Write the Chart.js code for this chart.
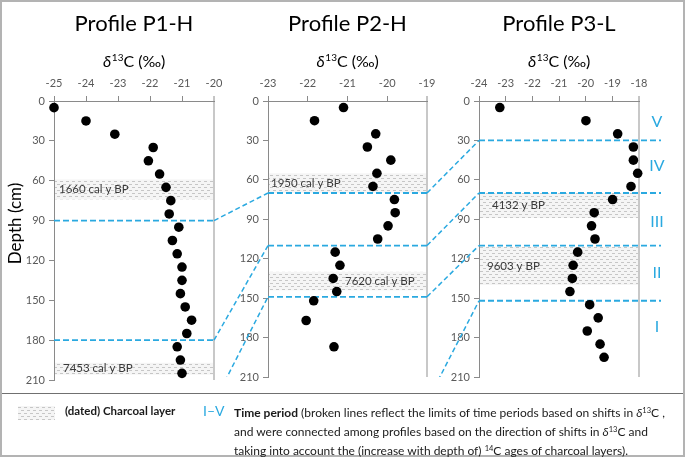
<!DOCTYPE html>
<html><head><meta charset="utf-8">
<script src="https://cdn.jsdelivr.net/npm/chart.js@4/dist/chart.umd.min.js"></script>
<style>
html,body{margin:0;padding:0;background:#fff;}
#fig{position:relative;width:685px;height:457px;overflow:hidden;font-family:Lato, "Open Sans", sans-serif;}
#fig canvas.panel{position:absolute;left:0;top:0;}
#frame{position:absolute;left:0;top:0;width:685px;height:457px;box-sizing:border-box;border:2px solid #b3b3b3;pointer-events:none;}
#sep{position:absolute;left:2px;top:393px;width:681px;height:0;border-top:1px solid #707070;}
.leg{position:absolute;white-space:nowrap;color:#1a1a1a;font-size:11.5px;}
.leg sup{font-size:7.5px;vertical-align:4px;line-height:0;}
</style></head>
<body>
<div id="fig">
 <canvas id="c1" class="panel" width="685" height="392"></canvas>
 <canvas id="c2" class="panel" width="685" height="392"></canvas>
 <canvas id="c3" class="panel" width="685" height="392"></canvas>
 <div id="frame"></div><div id="sep"></div>
 <canvas id="sw" width="37" height="14" style="position:absolute;left:18px;top:406px"></canvas>
 <div class="leg" style="left:65px;top:404px;font-weight:bold">(dated) Charcoal layer</div>
 <div class="leg" style="left:203px;top:402px;color:#2AA9E0;font-size:14px">I–V</div>
 <div class="leg" style="left:234px;top:403px;line-height:19px;font-size:12px"><b>Time period</b> (broken lines reflect the limits of time periods based on shifts in <i>δ</i><sup>13</sup>C ,<br>and were connected among profiles based on the direction of shifts in <i>δ</i><sup>13</sup>C and<br>taking into account the (increase with depth of) <sup>14</sup>C ages of charcoal layers).</div>
</div>
<script>
// ---------- DATA ----------
const depthTicks = [0, 30, 60, 90, 120, 150, 180, 210];

const p1Depth = [5,15,25,35,45,55,65,75,85,95,105,115,125,135,145,155,165,175,185,195,205];
const p1D13C  = [-25.0,-24.0,-23.1,-21.9,-22.05,-21.7,-21.5,-21.35,-21.4,-21.1,-21.3,-21.15,-21.0,-21.0,-21.05,-20.9,-20.7,-20.85,-21.15,-21.05,-21.0];

const p2Depth = [5,15,25,35,45,55,65,75,85,95,105,115,125,135,145,152,167,187];
const p2D13C  = [-21.1,-21.83,-20.29,-20.5,-19.91,-20.26,-20.36,-19.82,-19.8,-19.98,-20.24,-21.31,-21.19,-21.36,-21.27,-21.85,-22.04,-21.34];

const p3Depth = [5,15,25,35,45,55,65,75,85,95,105,115,125,135,145,155,165,175,185,195];
const p3D13C  = [-23.22,-19.99,-18.8,-18.21,-18.21,-18.05,-18.3,-18.99,-19.68,-19.78,-19.65,-20.3,-20.47,-20.5,-20.59,-19.85,-19.53,-19.94,-19.46,-19.31];

// charcoal layers: depth ranges and dates
const p1Bands = [[59, 74], [197, 206]];
const p1BandLabels = ['1660 cal y BP', '7453 cal y BP'];
const p2Bands = [[55, 70], [130, 144]];
const p2BandLabels = ['1950 cal y BP', '7620 cal y BP'];
const p3Bands = [[70, 89], [111, 140]];
const p3BandLabels = ['4132 y BP', '9603 y BP'];

// time period limits (depth, cm)
const p1Limits = [90, 180];
const p2Limits = [70, 110, 149];
const p3Limits = [30, 70, 110, 152];

// time periods (P3)
const periodNames = ['V', 'IV', 'III', 'II', 'I'];
const periodDepth = [16, 49, 92, 131, 172];

// connections of period limits between profiles [depth in left profile, depth in right profile]
const link12 = [[90, 70], [180, 110], [227, 149]];
const link23 = [[70, 30], [110, 70], [149, 110], [229, 152]];

// ---------- STYLE / LAYOUT ----------
const BLUE = '#2AA9E0';
const FONT = 'Lato, "Open Sans", sans-serif';
const CW = 685, CH = 392;
const TITLE_SIZE = 22, TITLE_PAD = 11;
const TITLE_H = TITLE_PAD + TITLE_SIZE * 1.2;
const AREA_TOP = 101, YAX_W = 40;

function makePattern(ctx) {
  const p = document.createElement('canvas'); p.width = 6; p.height = 6;
  const g = p.getContext('2d');
  g.fillStyle = 'rgba(238,238,238,0.6)'; g.fillRect(0,0,6,6);
  g.fillStyle = '#c6c6c6';
  g.fillRect(0, 1, 3, 1); g.fillRect(3, 4, 3, 1);
  return ctx.createPattern(p, 'repeat');
}

const charts = [];

function drawD13C(ctx, cx, baseY) {
  const f1 = 'italic 16px ' + FONT, f2 = '10px ' + FONT, f3 = '16px ' + FONT;
  ctx.font = f1; const w1 = ctx.measureText('δ').width;
  ctx.font = f2; const w2 = ctx.measureText('13').width;
  ctx.font = f3; const w3 = ctx.measureText('C (‰)').width;
  let x0 = cx - (w1 + w2 + w3) / 2;
  ctx.textBaseline = 'alphabetic'; ctx.textAlign = 'left'; ctx.fillStyle = '#000';
  ctx.font = f1; ctx.fillText('δ', x0, baseY); x0 += w1 + 0.5;
  ctx.font = f2; ctx.fillText('13', x0, baseY - 6); x0 += w2;
  ctx.font = f3; ctx.fillText('C (‰)', x0, baseY);
}

function makePanel(id, P) {
  const ctx0 = document.getElementById(id).getContext('2d');
  const pattern = makePattern(ctx0);
  const plugin = {
    id: 'deco',
    beforeDatasetsDraw(chart) {
      const {ctx, chartArea: a, scales: {y}} = chart;
      ctx.save();
      P.bands.forEach((b, i) => {
        const y1 = y.getPixelForValue(b[0]), y2 = y.getPixelForValue(b[1]);
        ctx.fillStyle = pattern;
        ctx.fillRect(a.left + 1, y1, a.right - a.left - 2, y2 - y1);
        ctx.fillStyle = '#3a3a3a';
        ctx.font = '11.5px ' + FONT;
        ctx.textAlign = 'left'; ctx.textBaseline = 'middle';
        ctx.fillText(P.bandLabels[i], a.left + P.labelOffset[i], (y1 + y2) / 2);
      });
      ctx.strokeStyle = BLUE; ctx.lineWidth = 1.8; ctx.setLineDash([6, 3]);
      P.limits.forEach(d => {
        const yy = y.getPixelForValue(d);
        ctx.beginPath(); ctx.moveTo(a.left, yy); ctx.lineTo(a.right + P.extend, yy); ctx.stroke();
      });
      ctx.restore();
    },
    afterDraw(chart) {
      const {ctx, chartArea: a, scales: {y}} = chart;
      ctx.save();
      drawD13C(ctx, (a.left + a.right) / 2, a.top - 34.5);
      if (P.depthTitle) {
        ctx.save();
        ctx.translate(16, (a.top + a.bottom) / 2 - 17);
        ctx.rotate(-Math.PI / 2);
        ctx.font = '17px ' + FONT; ctx.fillStyle = '#000';
        ctx.textAlign = 'center'; ctx.textBaseline = 'middle';
        ctx.fillText('Depth (cm)', 0, 0);
        ctx.restore();
      }
      if (P.periods) {
        ctx.font = '16px ' + FONT; ctx.fillStyle = BLUE;
        ctx.textAlign = 'center'; ctx.textBaseline = 'middle';
        P.periods.forEach((n, i) => ctx.fillText(n, a.right + 18, y.getPixelForValue(P.periodDepth[i])));
      }
      if (P.linkFrom !== undefined) {
        const left = charts[P.linkFrom];
        const la = left.chartArea, ly = left.scales.y;
        ctx.beginPath(); ctx.rect(0, 0, CW, Math.min(la.bottom, a.bottom)); ctx.clip();
        ctx.strokeStyle = BLUE; ctx.lineWidth = 1.5; ctx.setLineDash([5, 3]);
        P.links.forEach(([d1, d2]) => {
          ctx.beginPath();
          ctx.moveTo(la.right, ly.getPixelForValue(d1));
          ctx.lineTo(a.left, y.getPixelForValue(d2));
          ctx.stroke();
        });
      }
      ctx.restore();
    }
  };
  const chart = new Chart(ctx0, {
    type: 'scatter',
    data: { datasets: [{
      data: P.depth.map((d, i) => ({x: P.vals[i], y: d})),
      backgroundColor: '#000', borderWidth: 0, pointRadius: 4.8, clip: false
    }]},
    options: {
      responsive: false, animation: false, events: [],
      layout: { padding: { left: P.left - YAX_W, right: CW - P.right, top: 0, bottom: CH - P.bottom } },
      plugins: {
        legend: { display: false }, tooltip: { enabled: false },
        title: { display: true, text: P.title, fullSize: false, color: '#000',
          font: { family: FONT, size: TITLE_SIZE, weight: 'normal' }, padding: { top: TITLE_PAD, bottom: 0 } }
      },
      scales: {
        x: {
          type: 'linear', position: 'top', min: P.xMin, max: P.xMax,
          afterFit: s => { s.height = AREA_TOP - TITLE_H; },
          ticks: { stepSize: 1, color: '#595959', font: { family: FONT, size: 11 }, padding: 6, maxRotation: 0, autoSkip: false },
          grid: { drawOnChartArea: true, tickLength: 5, tickColor: '#8a8a8a', tickWidth: 1,
            color: c => (c.tick && c.tick.value === P.xMax) ? '#c8c8c8' : 'rgba(0,0,0,0)',
            lineWidth: c => (c.tick && c.tick.value === P.xMax) ? 2 : 1 },
          border: { display: true, color: '#8a8a8a', width: 1 }
        },
        y: {
          type: 'linear', position: 'left', min: 0, max: 210, reverse: true,
          afterFit: s => { s.width = YAX_W; },
          afterBuildTicks: s => { s.ticks = depthTicks.map(v => ({value: v})); },
          ticks: { color: '#595959', font: { family: FONT, size: 11 }, padding: 4 },
          grid: { drawOnChartArea: false, tickLength: 5, tickColor: '#8a8a8a' },
          border: { display: true, color: '#8a8a8a', width: 1 }
        }
      }
    },
    plugins: [plugin]
  });
  charts.push(chart);
  return chart;
}

makePanel('c1', { title: 'Profile P1-H', xMin: -25, xMax: -20, depth: p1Depth, vals: p1D13C,
  left: 54, right: 214, bottom: 380, bands: p1Bands, bandLabels: p1BandLabels, labelOffset: [5, 9],
  limits: p1Limits, extend: 0, depthTitle: true });
makePanel('c2', { title: 'Profile P2-H', xMin: -23, xMax: -19, depth: p2Depth, vals: p2D13C,
  left: 268, right: 427, bottom: 377, bands: p2Bands, bandLabels: p2BandLabels, labelOffset: [3, 77],
  limits: p2Limits, extend: 0, linkFrom: 0, links: link12 });
makePanel('c3', { title: 'Profile P3-L', xMin: -24, xMax: -18, depth: p3Depth, vals: p3D13C,
  left: 479, right: 639, bottom: 377, bands: p3Bands, bandLabels: p3BandLabels, labelOffset: [13, 8],
  limits: p3Limits, extend: 22, periods: periodNames, periodDepth: periodDepth, linkFrom: 1, links: link23 });

// legend swatch
(function () {
  const c = document.getElementById('sw').getContext('2d');
  c.fillStyle = makePattern(c); c.fillRect(0, 0, 37, 14);
})();
</script>
</body></html>
